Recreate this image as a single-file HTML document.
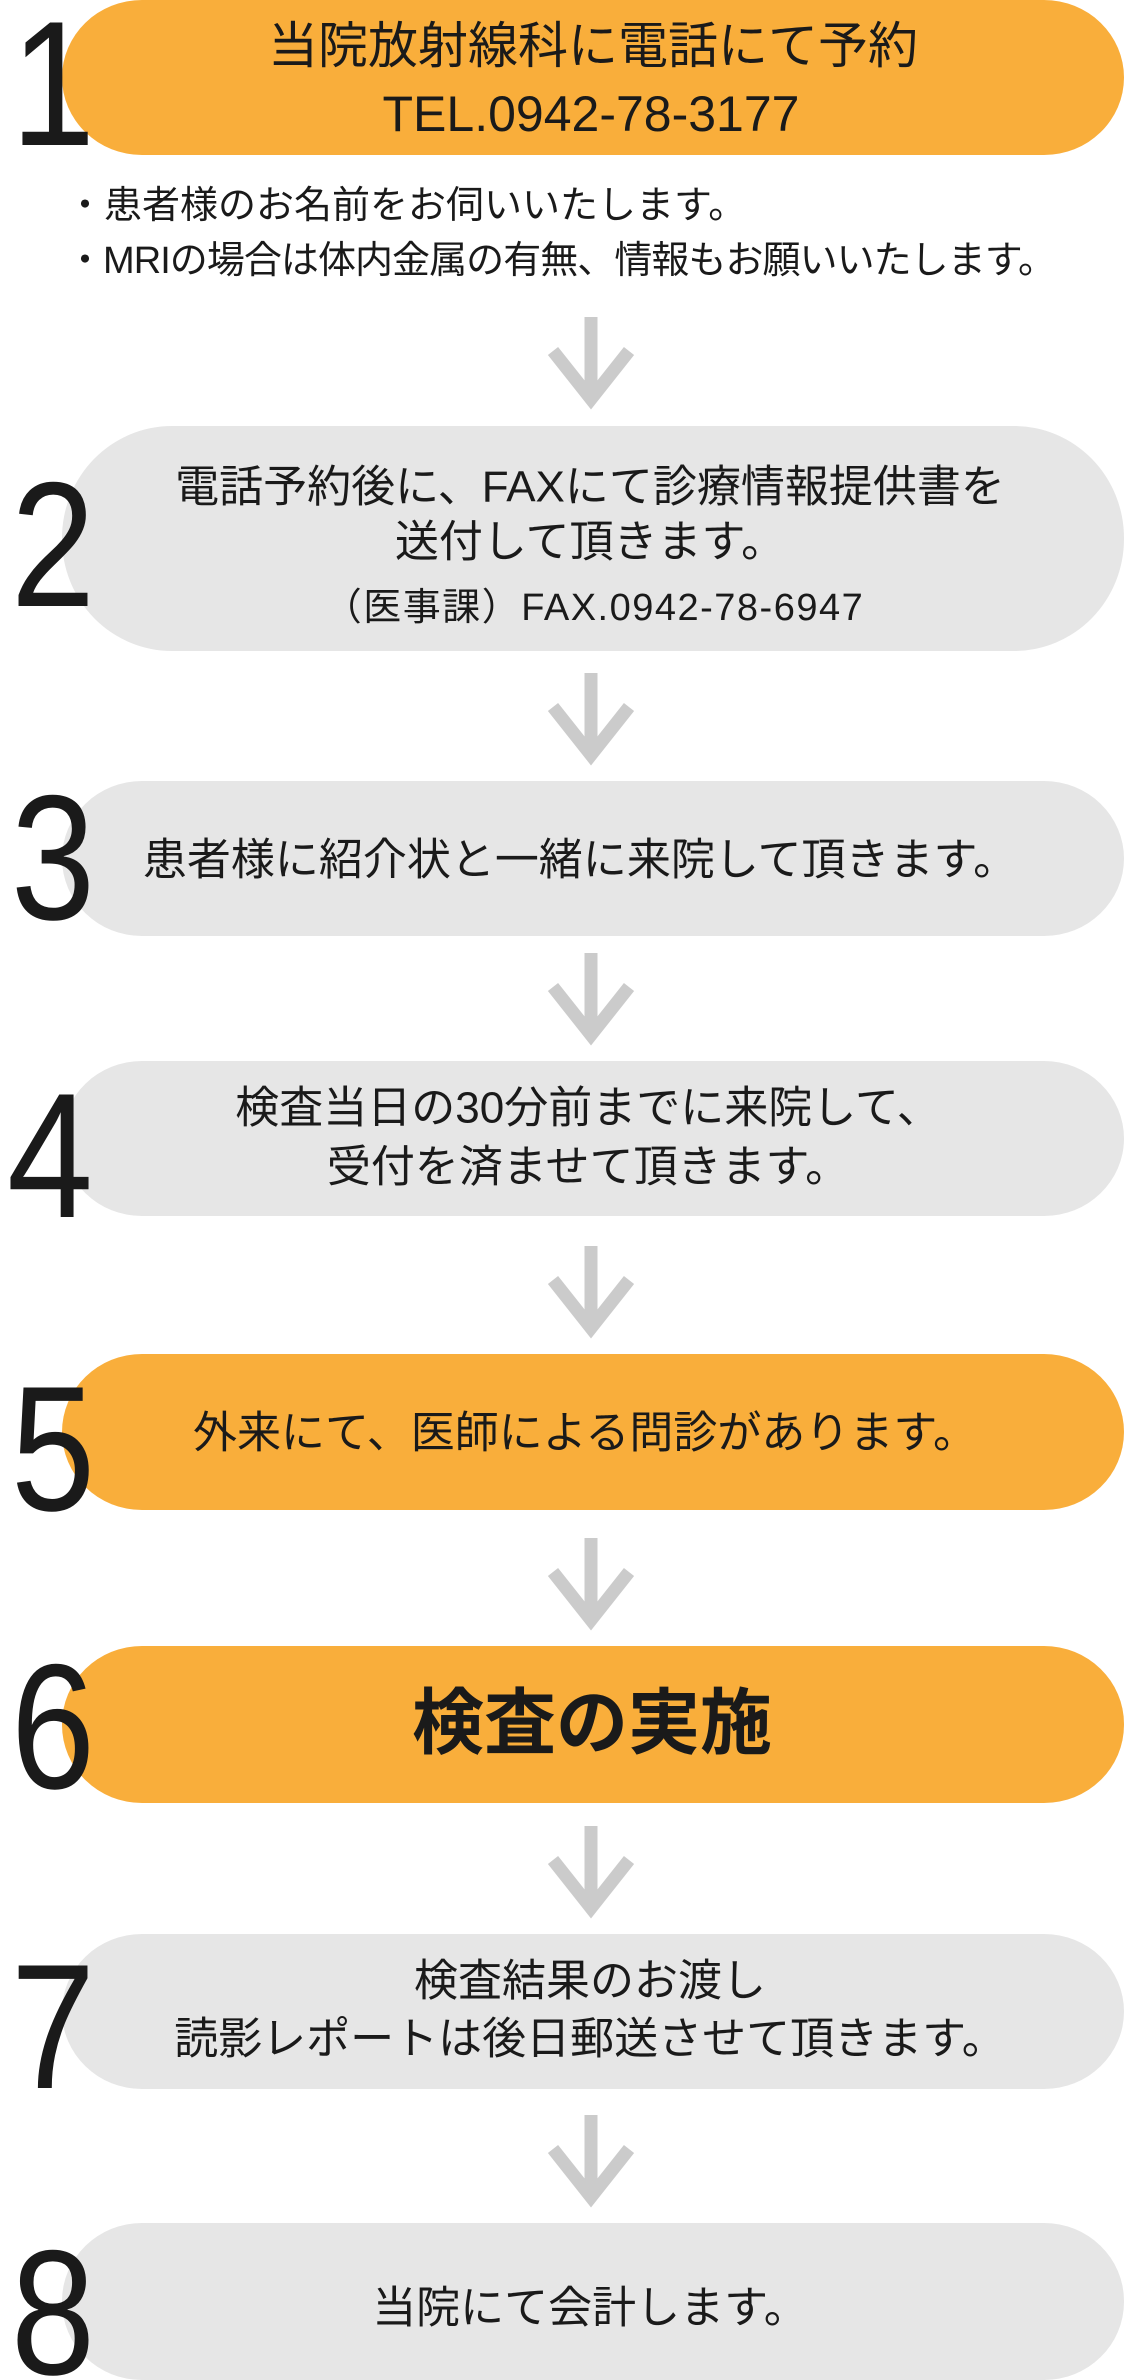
<!DOCTYPE html>
<html><head><meta charset="utf-8">
<style>
html,body{margin:0;padding:0;background:#fff;}
svg{display:block;}
text{font-family:"Liberation Sans","Noto Sans CJK JP",sans-serif;fill:#1a1a1a;}
</style></head>
<body>
<svg width="1124" height="2380" viewBox="0 0 1124 2380" xmlns="http://www.w3.org/2000/svg">
<defs>
<g id="arr"><path d="M591 0 V84 M553 34 L591 82 L629 34" fill="none" stroke="#cbcbcb" stroke-width="13"/></g>
</defs>
<!-- pills -->
<rect x="62" y="0" width="1062" height="155" rx="80" ry="78" fill="#F9AE3B"/>
<rect x="62" y="426" width="1062" height="225" rx="110" ry="112" fill="#E6E6E6"/>
<rect x="62" y="781" width="1062" height="155" rx="80" ry="78" fill="#E6E6E6"/>
<rect x="62" y="1061" width="1062" height="155" rx="80" ry="78" fill="#E6E6E6"/>
<rect x="62" y="1354" width="1062" height="156" rx="80" ry="78" fill="#F9AE3B"/>
<rect x="62" y="1646" width="1062" height="157" rx="80" ry="78" fill="#F9AE3B"/>
<rect x="62" y="1934" width="1062" height="155" rx="80" ry="78" fill="#E6E6E6"/>
<rect x="62" y="2223" width="1062" height="157" rx="80" ry="78" fill="#E6E6E6"/>
<!-- arrows -->
<use href="#arr" y="317"/>
<use href="#arr" y="673"/>
<use href="#arr" y="953"/>
<use href="#arr" y="1246"/>
<use href="#arr" y="1538"/>
<use href="#arr" y="1826"/>
<use href="#arr" y="2115"/>
<!-- digits -->
<g font-size="178">
<text transform="translate(53,145) scale(0.85,1)" text-anchor="middle">1</text>
<text transform="translate(53,606) scale(0.85,1)" text-anchor="middle">2</text>
<text transform="translate(53,919) scale(0.85,1)" text-anchor="middle">3</text>
<text transform="translate(50,1217) scale(0.87,1)" text-anchor="middle">4</text>
<text transform="translate(53,1510) scale(0.85,1)" text-anchor="middle">5</text>
<text transform="translate(53,1788) scale(0.85,1)" text-anchor="middle">6</text>
<text transform="translate(53,2088) scale(0.85,1)" text-anchor="middle">7</text>
<text transform="translate(53,2374) scale(0.85,1)" text-anchor="middle">8</text>
</g>
<!-- texts -->
<g text-anchor="middle" dominant-baseline="central">
<text x="593" y="46" font-size="50">当院放射線科に電話にて予約</text>
<text x="591" y="114" font-size="50">TEL.0942-78-3177</text>
<text x="590" y="487" font-size="44">電話予約後に、FAXにて診療情報提供書を</text>
<text x="590" y="542" font-size="44">送付して頂きます。</text>
<text x="594" y="608" font-size="38" letter-spacing="1.5">（医事課）FAX.0942-78-6947</text>
<text x="580" y="860" font-size="44">患者様に紹介状と一緒に来院して頂きます。</text>
<text x="588" y="1108" font-size="44">検査当日の30分前までに来院して、</text>
<text x="588" y="1167" font-size="44">受付を済ませて頂きます。</text>
<text x="585" y="1433" font-size="44">外来にて、医師による問診があります。</text>
<text x="592" y="1724" font-size="72" font-weight="bold">検査の実施</text>
<text x="590" y="1981" font-size="44">検査結果のお渡し</text>
<text x="590" y="2039" font-size="44">読影レポートは後日郵送させて頂きます。</text>
<text x="590" y="2308" font-size="44">当院にて会計します。</text>
</g>
<g dominant-baseline="central" font-size="38">
<text x="66" y="206">・患者様のお名前をお伺いいたします。</text>
<text x="66" y="261" textLength="990">・MRIの場合は体内金属の有無、情報もお願いいたします。</text>
</g>
</svg>
</body></html>
